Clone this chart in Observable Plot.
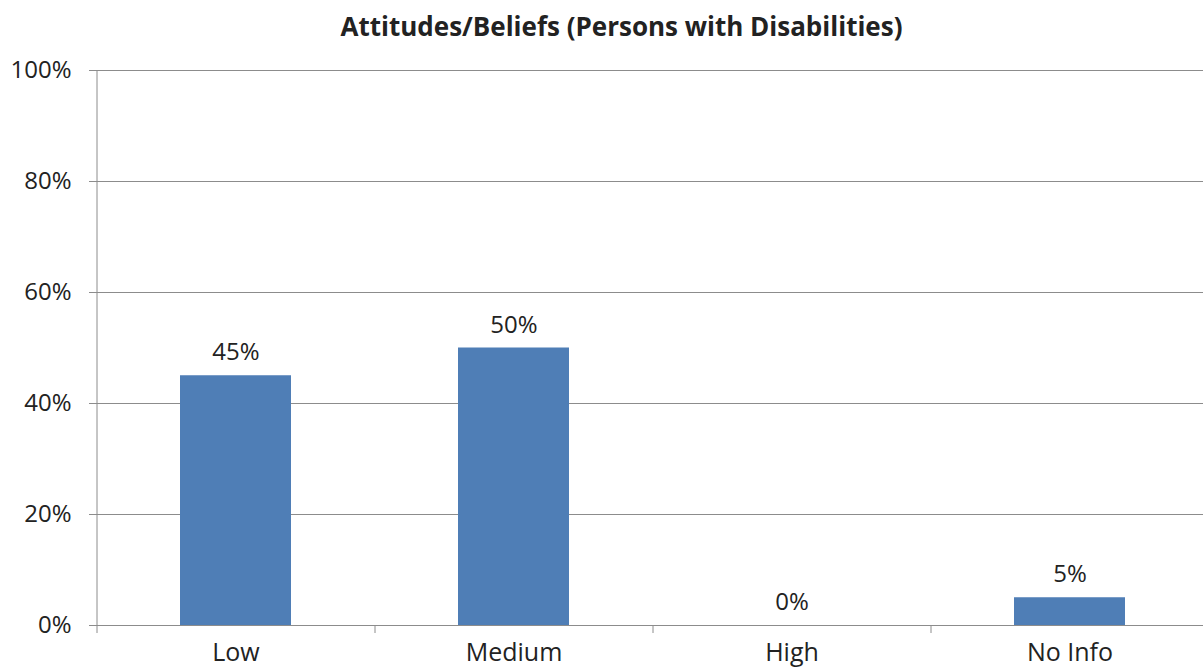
<!DOCTYPE html>
<html>
<head>
<meta charset="utf-8">
<script src="https://cdn.jsdelivr.net/npm/d3@7"></script>
<script src="https://cdn.jsdelivr.net/npm/@observablehq/plot@0.6"></script>
<style>
  html, body { margin: 0; padding: 0; background: #fff; }
  #wrap { position: relative; width: 1203px; height: 668px; overflow: hidden; }
  #title { position: absolute; top: 8px; left: 0; width: 1243px; text-align: center;
    font-family: "Open Sans", "Noto Sans", sans-serif; font-weight: bold; font-size: 26px; color: #222; }
</style>
</head>
<body>
<div id="wrap">
  <div id="title">Attitudes/Beliefs (Persons with Disabilities)</div>
</div>
<script>
const categories = ["Low", "Medium", "High", "No Info"];
const values = [0.45, 0.50, 0.00, 0.05];
const valueLabels = ["45%", "50%", "0%", "5%"];
const yTicks = [0, 0.2, 0.4, 0.6, 0.8, 1.0];

const data = categories.map((c, i) => ({category: c, value: values[i], label: valueLabels[i]}));

const font = '"Open Sans", "Noto Sans", sans-serif';
const plot = Plot.plot({
  width: 1203,
  height: 668,
  marginLeft: 97,
  marginRight: 0,
  marginTop: 70,
  marginBottom: 43,
  style: {fontFamily: font, fontSize: "24px", color: "#333", background: "#fff"},
  x: {domain: categories, range: [97, 1209], paddingInner: 0.6, paddingOuter: 0.3, label: null},
  y: {domain: [0, 1], label: null},
  marks: [
    Plot.gridY(yTicks, {stroke: "#8c8c8c", strokeOpacity: 1, strokeWidth: 1}),
    Plot.barY(data, {x: "category", y: "value", fill: "#4F7EB6"}),
    Plot.text(data, {x: "category", y: "value", text: "label", dy: -23, fontSize: 24, fill: "#222"}),
    Plot.axisY(yTicks, {tickFormat: d => Math.round(d * 100) + "%", tickSize: 8, tickPadding: 18,
      stroke: "#8c8c8c", fontSize: 24, fill: "#222", label: null}),
    Plot.axisX({tickSize: 0, tickPadding: 18, fontSize: 25, fill: "#222", label: null}),
    Plot.ruleY([0], {stroke: "#8c8c8c"})
  ]
});

// left axis line and category boundary ticks derived from the x scale
const xs = plot.scale("x");
const ys = plot.scale("y");
const svg = d3.select(plot);
const step = xs.step;
const start = xs.range[0];
const y0 = ys.apply(0), y1 = ys.apply(1);
svg.append("line").attr("x1", start).attr("x2", start).attr("y1", y1).attr("y2", y0 + 8)
  .attr("stroke", "#8c8c8c");
for (let i = 1; i < categories.length; i++) {
  const bx = start + step * i;
  svg.append("line").attr("x1", bx).attr("x2", bx).attr("y1", y0).attr("y2", y0 + 8)
    .attr("stroke", "#8c8c8c");
}
document.getElementById("wrap").prepend(plot);
</script>
</body>
</html>
